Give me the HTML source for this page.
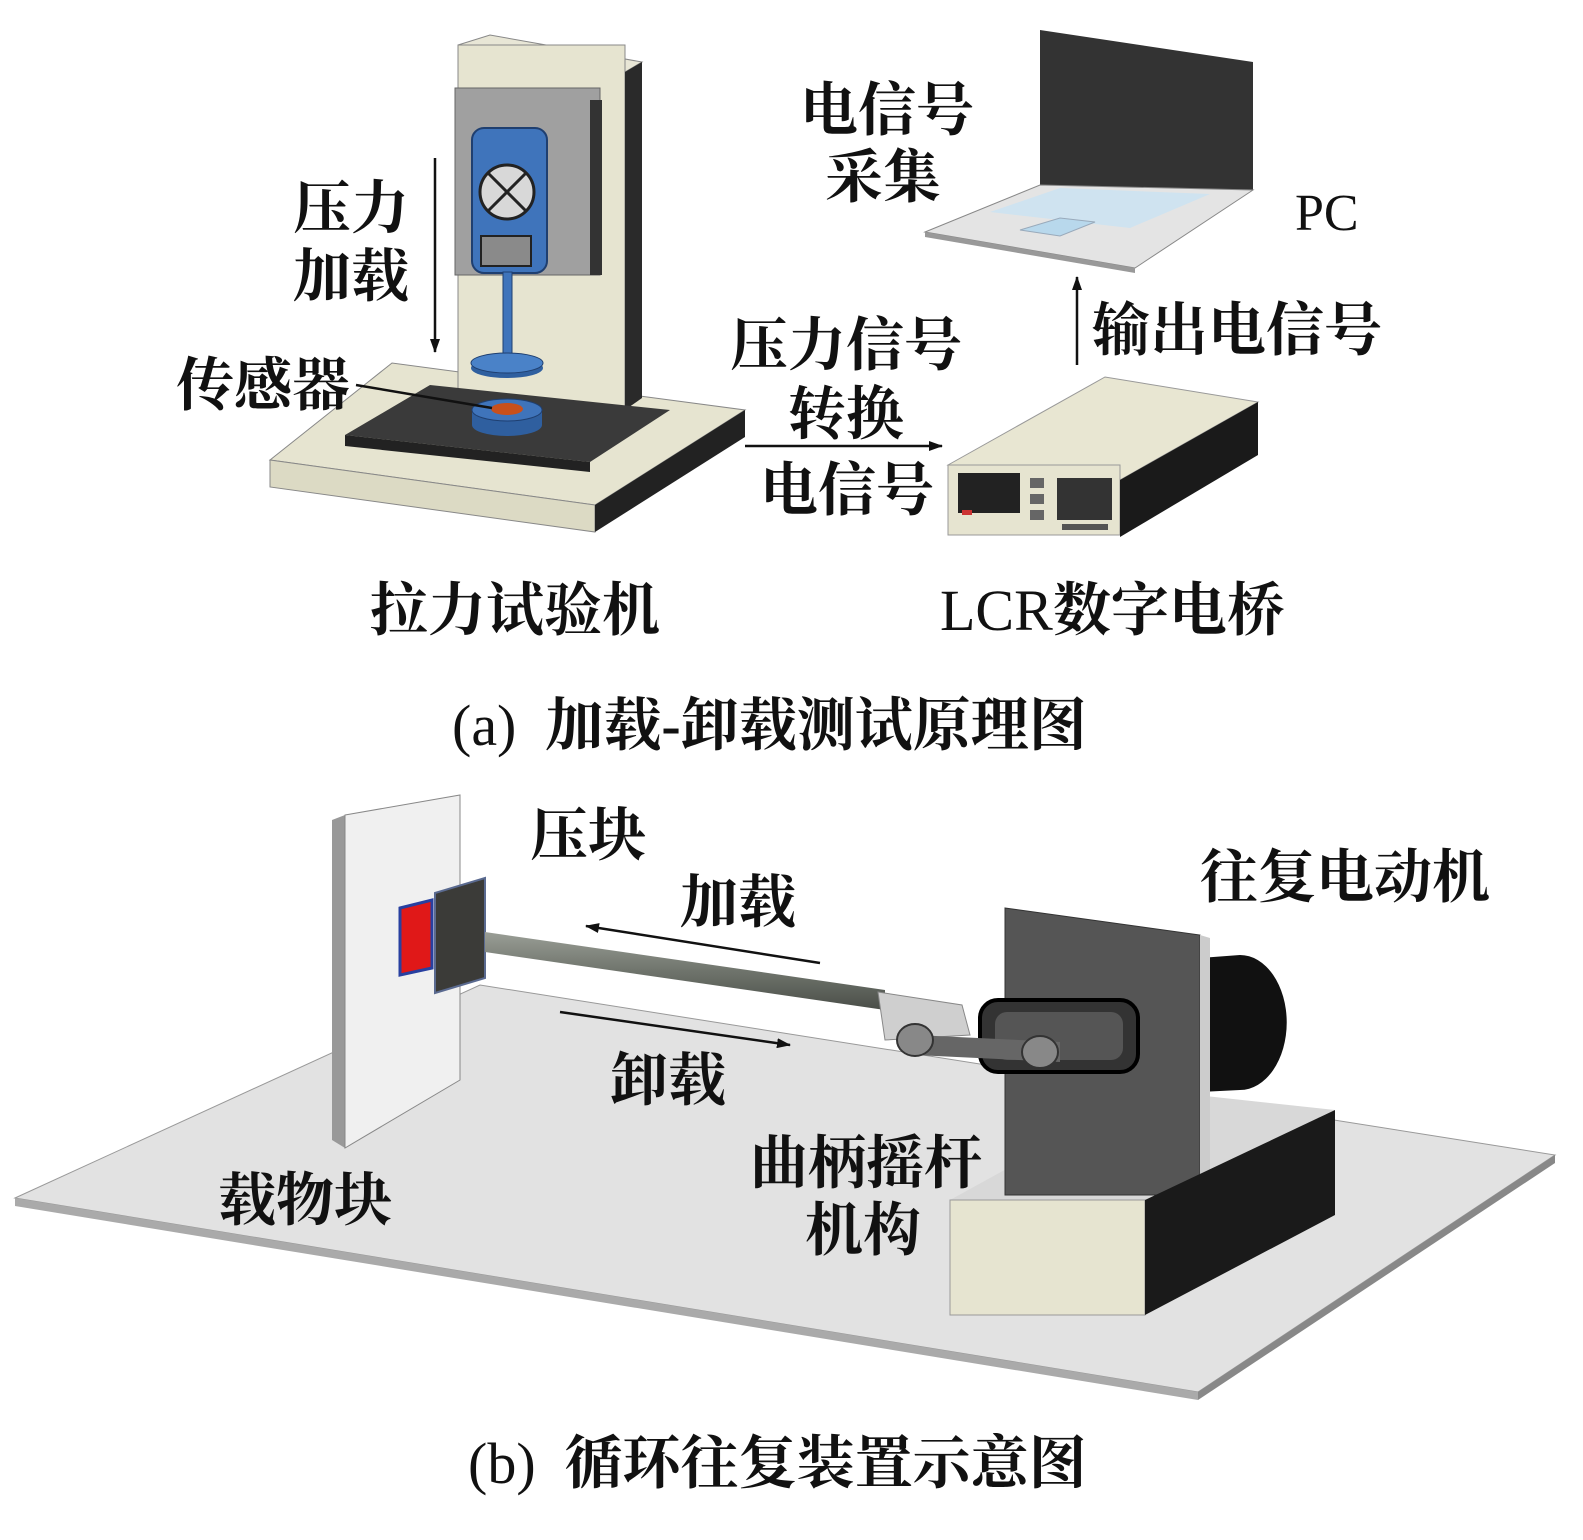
<!DOCTYPE html>
<html><head><meta charset="utf-8"><style>
body{margin:0;background:#fff}
svg text{font-family:"Liberation Serif","Noto Serif CJK SC",serif;font-weight:bold;fill:#111}
</style></head><body>
<svg width="1583" height="1535" viewBox="0 0 1583 1535" xmlns="http://www.w3.org/2000/svg">
<defs>
<marker id="ah" markerWidth="14" markerHeight="10" refX="13" refY="5" orient="auto" markerUnits="userSpaceOnUse"><path d="M0,0 L14,5 L0,10 Z" fill="#111"/></marker>
<linearGradient id="rod" x1="0" y1="0" x2="0" y2="1"><stop offset="0" stop-color="#9a9e96"/><stop offset="0.5" stop-color="#6f746c"/><stop offset="1" stop-color="#4a4e48"/></linearGradient>
</defs>
<!-- ===== (a) tensile machine ===== -->
<polygon points="270,460 392,363 745,410 595,505" fill="#e6e4d0" stroke="#888" stroke-width="1"/>
<polygon points="270,460 595,505 595,532 270,487" fill="#dcdac4" stroke="#888" stroke-width="1"/>
<polygon points="595,505 745,410 745,437 595,532" fill="#222"/>
<polygon points="458,45 490,35 642,62 625,72" fill="#e8e6d6" stroke="#888"/>
<rect x="458" y="45" width="167" height="365" fill="#e6e4d0" stroke="#888"/>
<polygon points="625,72 642,62 642,398 625,410" fill="#2a2a2a"/>
<rect x="455" y="88" width="145" height="187" fill="#a0a0a0" stroke="#666"/>
<rect x="590" y="100" width="12" height="175" fill="#333"/>
<polygon points="345,435 430,385 670,410 590,462" fill="#3a3a3a"/>
<polygon points="345,435 590,462 590,472 345,446" fill="#222"/>
<rect x="472" y="128" width="75" height="145" rx="12" fill="#3f74bb" stroke="#1f3f70" stroke-width="2"/>
<circle cx="507" cy="192" r="27" fill="#d8d8d8" stroke="#222" stroke-width="3"/>
<line x1="488" y1="173" x2="526" y2="211" stroke="#222" stroke-width="3"/>
<line x1="526" y1="173" x2="488" y2="211" stroke="#222" stroke-width="3"/>
<rect x="481" y="236" width="50" height="30" fill="#8a8a8a" stroke="#222" stroke-width="2"/>
<rect x="503" y="272" width="9" height="90" fill="#3f74bb" stroke="#1f3f70"/>
<ellipse cx="507" cy="368" rx="36" ry="10" fill="#2f5f9f"/>
<ellipse cx="507" cy="363" rx="36" ry="10" fill="#4a82c8" stroke="#1f3f70"/>
<path d="M472,410 L472,425 A35,11 0 0 0 542,425 L542,410 Z" fill="#2f5f9f"/>
<ellipse cx="507" cy="410" rx="35" ry="11" fill="#3f74bb" stroke="#1f3f70"/>
<ellipse cx="507" cy="409" rx="16" ry="6" fill="#c8501c"/>
<line x1="356" y1="385" x2="492" y2="408" stroke="#111" stroke-width="2.5"/>
<line x1="435" y1="158" x2="435" y2="352" stroke="#111" stroke-width="2.5" marker-end="url(#ah)"/>
<text x="293" y="228" font-size="58">压力</text>
<text x="293" y="296" font-size="58">加载</text>
<text x="176" y="405" font-size="58">传感器</text>
<line x1="745" y1="446" x2="942" y2="446" stroke="#111" stroke-width="2.5" marker-end="url(#ah)"/>
<text x="730" y="365" font-size="58">压力信号</text>
<text x="788" y="434" font-size="58">转换</text>
<text x="760" y="510" font-size="58">电信号</text>
<!-- LCR -->
<polygon points="948,465 1105,377 1258,402 1120,480" fill="#e8e6d2" stroke="#999"/>
<rect x="948" y="465" width="172" height="70" fill="#e6e4d0" stroke="#999"/>
<polygon points="1120,480 1258,402 1258,455 1120,537" fill="#1a1a1a"/>
<rect x="958" y="473" width="62" height="40" fill="#222"/>
<rect x="1030" y="478" width="14" height="10" fill="#666"/><rect x="1030" y="494" width="14" height="10" fill="#666"/><rect x="1030" y="510" width="14" height="10" fill="#666"/>
<rect x="1057" y="478" width="55" height="42" fill="#333"/>
<rect x="1062" y="524" width="46" height="6" fill="#555"/>
<rect x="962" y="510" width="10" height="5" fill="#c33"/>
<!-- laptop -->
<polygon points="1040,30 1253,62 1253,190 1040,185" fill="#333"/>
<polygon points="925,232 1040,185 1253,190 1135,268" fill="#e4e4e4" stroke="#888"/>
<polygon points="925,232 1135,268 1135,273 925,237" fill="#999"/>
<polygon points="990,212 1060,188 1210,194 1130,228" fill="#cfe3f0"/>
<polygon points="1020,230 1060,218 1095,222 1060,236" fill="#b8d8ec" stroke="#9ab"/>
<line x1="1077" y1="365" x2="1077" y2="277" stroke="#111" stroke-width="2.5" marker-end="url(#ah)"/>
<text x="800" y="130" font-size="58">电信号</text>
<text x="825" y="197" font-size="58">采集</text>
<text x="1295" y="230" font-size="52" style="font-weight:normal">PC</text>
<text x="1092" y="350" font-size="58">输出电信号</text>
<text x="370" y="630" font-size="58">拉力试验机</text>
<text x="940" y="630" font-size="58"><tspan style="font-weight:normal">LCR</tspan>数字电桥</text>
<text x="452" y="745" font-size="58"><tspan style="font-weight:normal">(a)&#160; </tspan>加载-卸载测试原理图</text>
<!-- ===== (b) ===== -->
<polygon points="15,1198 480,985 1555,1155 1198,1392" fill="#e2e2e2" stroke="#999"/>
<polygon points="15,1198 1198,1392 1198,1400 15,1206" fill="#aaa"/>
<polygon points="1198,1392 1555,1155 1555,1163 1198,1400" fill="#888"/>
<polygon points="332,820 345,815 345,1148 332,1140" fill="#999"/>
<polygon points="345,815 460,795 460,1080 345,1148" fill="#f0f0f0" stroke="#888"/>
<polygon points="400,908 432,900 432,968 400,975" fill="#e01818" stroke="#2840a0" stroke-width="3"/>
<polygon points="435,893 485,878 485,978 435,993" fill="#3b3b38" stroke="#5a6a90" stroke-width="2"/>
<polygon points="485,932 885,990 885,1010 485,952" fill="url(#rod)"/>
<polygon points="878,992 962,1005 970,1035 885,1040" fill="#cfcfcf" stroke="#888"/>
<!-- motor base top -->
<polygon points="950,1200 1145,1200 1335,1110 1150,1090" fill="#d8d8d8"/>
<path d="M1200,958 L1240,955 A45,65 0 0 1 1240,1090 L1200,1092 Z" fill="#111"/>
<polygon points="1005,908 1200,935 1200,1195 1005,1195" fill="#555" stroke="#333"/>
<polygon points="1200,935 1210,938 1210,1195 1200,1195" fill="#ccc"/>
<rect x="980" y="1000" width="158" height="72" rx="18" fill="#333" stroke="#000" stroke-width="4"/>
<rect x="995" y="1012" width="128" height="48" rx="12" fill="#555"/>
<polygon points="915,1035 1060,1042 1060,1062 915,1055" fill="#666"/>
<ellipse cx="915" cy="1040" rx="18" ry="16" fill="#888" stroke="#333" stroke-width="2"/>
<ellipse cx="1040" cy="1052" rx="18" ry="16" fill="#888" stroke="#333" stroke-width="2"/>
<rect x="950" y="1200" width="195" height="115" fill="#e6e4d0" stroke="#999"/>
<polygon points="1145,1200 1335,1110 1335,1215 1145,1315" fill="#1a1a1a"/>
<line x1="820" y1="963" x2="586" y2="926" stroke="#111" stroke-width="2.5" marker-end="url(#ah)"/>
<line x1="560" y1="1012" x2="790" y2="1045" stroke="#111" stroke-width="2.5" marker-end="url(#ah)"/>
<text x="530" y="855" font-size="58">压块</text>
<text x="680" y="922" font-size="58">加载</text>
<text x="1200" y="897" font-size="58">往复电动机</text>
<text x="610" y="1100" font-size="58">卸载</text>
<text x="750" y="1183" font-size="58">曲柄摇杆</text>
<text x="805" y="1250" font-size="58">机构</text>
<text x="218" y="1220" font-size="58">载物块</text>
<text x="468" y="1483" font-size="58"><tspan style="font-weight:normal">(b)&#160; </tspan>循环往复装置示意图</text>
</svg>
</body></html>
